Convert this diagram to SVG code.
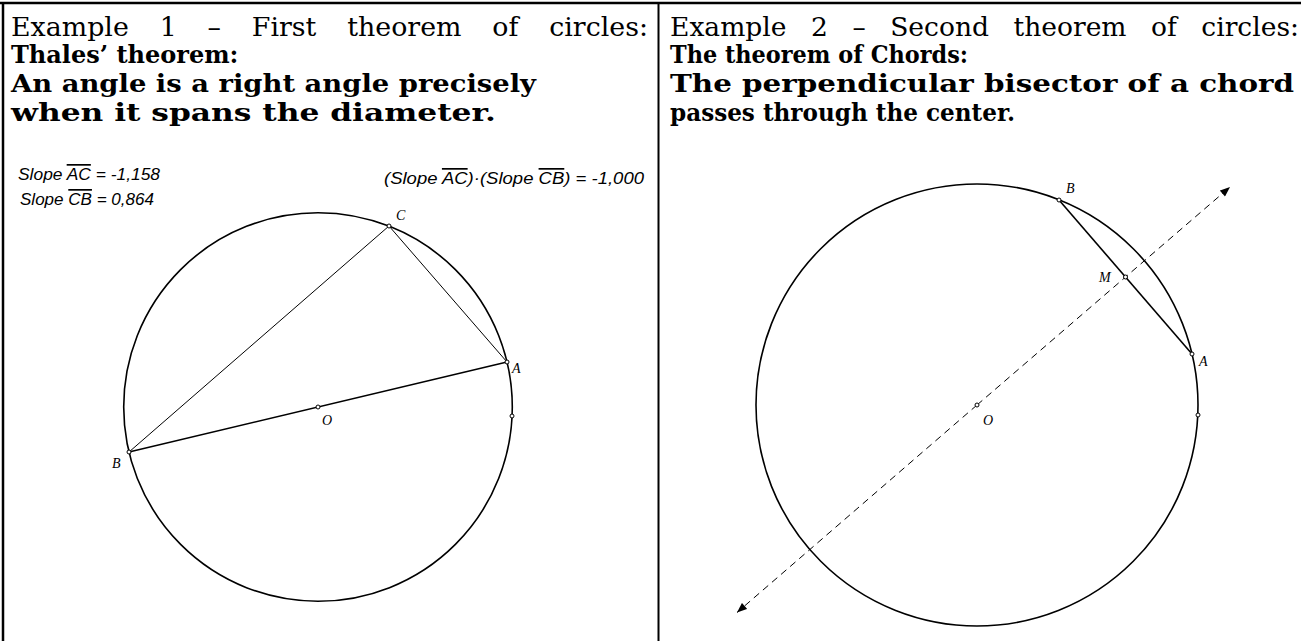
<svg xmlns="http://www.w3.org/2000/svg" width="1301" height="641" viewBox="0 0 1301 641">
<style>
.hdr{font-family:"DejaVu Serif","Liberation Serif",serif;font-size:26.5px;fill:#000}
.bold{font-family:"DejaVu Serif","Liberation Serif",serif;font-size:24px;font-weight:bold;fill:#000}
.slope{font-family:"Liberation Sans",Arial,sans-serif;font-style:italic;font-size:17px;fill:#000}
.pt{font-family:"Liberation Serif","Times New Roman",serif;font-style:italic;font-size:14px;fill:#000}
.circ{fill:none;stroke:#000;stroke-width:1.6}
.seg{stroke:#000;stroke-width:1;fill:none}
.segb{stroke:#000;stroke-width:1.6;fill:none}
.dot{fill:#fff;stroke:#000;stroke-width:1}
.dash{stroke:#000;stroke-width:1;stroke-dasharray:7,5;fill:none}
.frame{stroke:#000;fill:none}
.ov{text-decoration:overline}
</style>
<defs>
<marker id="arr" viewBox="0 0 10 8" refX="10" refY="4" markerWidth="11" markerHeight="8" markerUnits="userSpaceOnUse" orient="auto">
<path d="M0,0 L10,4 L0,8 Z" fill="#000"/>
</marker>
</defs>
<rect width="1301" height="641" fill="#fff"/>
<g id="frame">
<line class="frame" x1="0" y1="3" x2="1301" y2="3" stroke-width="2.5"/>
<line class="frame" x1="3" y1="2" x2="3" y2="641" stroke-width="2.5"/>
<line class="frame" x1="658.5" y1="2" x2="658.5" y2="641" stroke-width="2"/>
</g>
<g id="left-panel">
<text class="hdr" x="11" y="36" textLength="637" lengthAdjust="spacingAndGlyphs" word-spacing="22">Example 1 – First theorem of circles:</text>
<text class="bold" x="11" y="63">Thales’ theorem:</text>
<text class="bold" x="11" y="92" textLength="525" lengthAdjust="spacingAndGlyphs">An angle is a right angle precisely</text>
<text class="bold" x="11" y="121" textLength="485" lengthAdjust="spacingAndGlyphs">when it spans the diameter.</text>
<text class="slope" x="18" y="180" textLength="142" lengthAdjust="spacingAndGlyphs">Slope <tspan class="ov">AC</tspan> = -1,158</text>
<text class="slope" x="20" y="205" textLength="134" lengthAdjust="spacingAndGlyphs">Slope <tspan class="ov">CB</tspan> = 0,864</text>
<text class="slope" x="384" y="184" textLength="260" lengthAdjust="spacingAndGlyphs">(Slope <tspan class="ov">AC</tspan>)·(Slope <tspan class="ov">CB</tspan>) = -1,000</text>
</g>
<g id="left-circle">
<circle class="circ" cx="318" cy="407" r="194.3"/>
</g>
<g id="connectors-left">
<line class="segb" x1="129" y1="452" x2="507" y2="362"/>
<line class="seg" x1="129" y1="452" x2="389" y2="226"/>
<line class="seg" x1="389" y1="226" x2="507" y2="362"/>
</g>
<g id="left-points">
<circle class="dot" cx="507" cy="362" r="2"/>
<circle class="dot" cx="129" cy="452" r="2"/>
<circle class="dot" cx="389" cy="226" r="2"/>
<circle class="dot" cx="318" cy="407" r="2"/>
<circle class="dot" cx="512" cy="416" r="2"/>
<text class="pt" x="396" y="220">C</text>
<text class="pt" x="512" y="373">A</text>
<text class="pt" x="322" y="425">O</text>
<text class="pt" x="112" y="468">B</text>
</g>
<g id="right-panel">
<text class="hdr" x="670" y="36" textLength="629" lengthAdjust="spacingAndGlyphs" word-spacing="16">Example 2 – Second theorem of circles:</text>
<text class="bold" x="670" y="63" textLength="298" lengthAdjust="spacingAndGlyphs">The theorem of Chords:</text>
<text class="bold" x="670" y="92" textLength="624" lengthAdjust="spacingAndGlyphs">The perpendicular bisector of a chord</text>
<text class="bold" x="670" y="121" textLength="345" lengthAdjust="spacingAndGlyphs">passes through the center.</text>
</g>
<g id="right-circle">
<circle class="circ" cx="977" cy="405" r="221"/>
</g>
<g id="connectors-right">
<line class="segb" x1="1059" y1="200" x2="1192" y2="354"/>
<line class="dash" x1="977" y1="405" x2="1230" y2="187" marker-end="url(#arr)"/>
<line class="dash" x1="977" y1="405" x2="737" y2="612.5" marker-end="url(#arr)"/>
</g>
<g id="right-points">
<circle class="dot" cx="1059" cy="200" r="2"/>
<circle class="dot" cx="1192" cy="354" r="2"/>
<circle class="dot" cx="1125.5" cy="277" r="2"/>
<circle class="dot" cx="977" cy="405" r="2"/>
<circle class="dot" cx="1198" cy="415" r="2"/>
<text class="pt" x="1066" y="193">B</text>
<text class="pt" x="1099" y="282">M</text>
<text class="pt" x="1199" y="366">A</text>
<text class="pt" x="983" y="425">O</text>
</g>
</svg>
